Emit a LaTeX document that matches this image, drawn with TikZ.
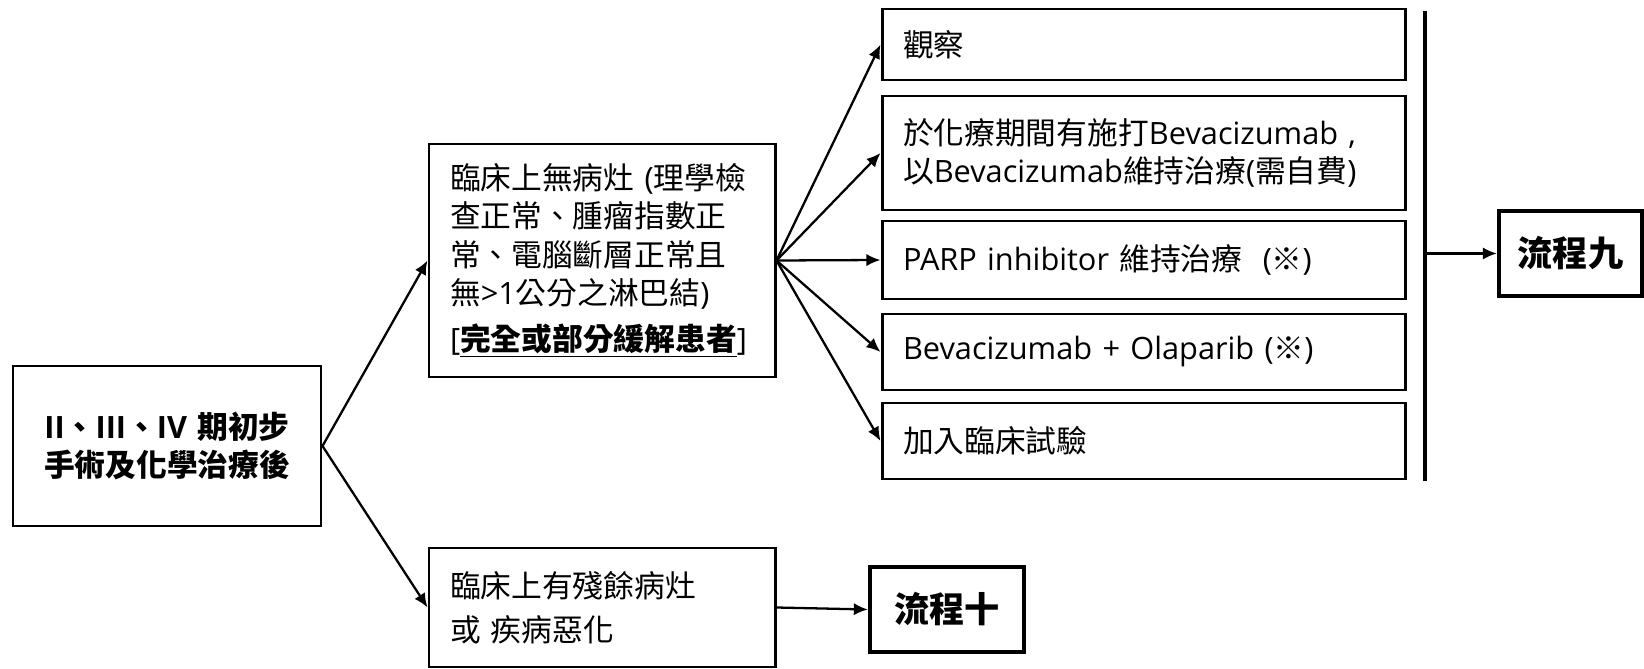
\documentclass[tikz,border=0pt]{standalone}
\usepackage{fontspec}
\setmainfont{Noto Sans CJK TC}
\newfontfamily\latn{Open Sans}
\usetikzlibrary{arrows.meta}

\newcommand{\pxl}{0.02cm}

\begin{document}
\begin{tikzpicture}[%
        x=\pxl, y=-\pxl,
        font=\fontsize{17.5}{21.8}\selectfont,
        box/.style={draw, line width=1.7pt, inner ysep=0pt, inner xsep=21*\pxl, align=left},
        stepbox/.style={box, text width=481*\pxl, minimum height=#1*\pxl},
        flowbox/.style={draw, line width=2.4pt, inner sep=0pt, align=center,
            font=\fontsize{20}{24}\selectfont\bfseries},
        link/.style={->, line width=1.3pt},
        >={Latex[length=8pt, width=7pt]} % default arrow tip
        ]
            \useasboundingbox (0,0) rectangle (1644,669);

            % Ausgangslage
            \node[box, align=center, text width=266*\pxl, minimum height=160*\pxl,
                font=\fontsize{17.5}{21.8}\selectfont\bfseries]
                (start) at (167,446) {{\latn II}、{\latn III}、{\latn IV} 期初步\\手術及化學治療後};

            % Verzweigung
            \node[box, text width=304*\pxl, minimum height=233*\pxl]
                (clear) at (602,260.5)
                {臨床上無病灶 {\latn (}理學檢\\查正常、腫瘤指數正\\常、電腦斷層正常且\\無{\latn >1}公分之淋巴結{\latn )}\\[4.5pt]
                 {\latn [}\underline{\textbf{完全或部分緩解患者}}{\latn ]}};
            \node[box, text width=304*\pxl, minimum height=119*\pxl,
                font=\fontsize{17.5}{24.9}\selectfont]
                (resid) at (602,607.5) {臨床上有殘餘病灶\\或 疾病惡化};

            % Erhaltung
            \node[stepbox=71]  (obs)   at (1143.5,44.5) {觀察};
            \node[stepbox=114] (bev)   at (1143.5,153)
                {於化療期間有施打{\latn Bevacizumab ,}\\以{\latn Bevacizumab}維持治療{\latn (}需自費{\latn )}};
            \node[stepbox=78]  (parp)  at (1143.5,260)  {{\latn PARP inhibitor} 維持治療\ \ {\latn (}※{\latn )}};
            \node[stepbox=76]  (olap)  at (1143.5,352)  {{\latn Bevacizumab + Olaparib (}※{\latn )}};
            \node[stepbox=76]  (trial) at (1143.5,441)  {加入臨床試驗};

            % Sammelschiene
            \coordinate (bartop) at (1425,11);
            \coordinate (barbot) at (1425,481);
            \draw[line width=2.8pt] (bartop) -- (barbot);

            \node[flowbox, minimum width=143*\pxl, minimum height=85*\pxl]
                (flow9) at (1570.5,253.5) {流程九};
            \node[flowbox, minimum width=154*\pxl, minimum height=85*\pxl]
                (flow10) at (947,609.5) {流程十};

            % Pfeile
            \draw[link] (start.east) -- (clear.west);
            \draw[link] (start.east) -- (resid.west);
            \foreach \n in {obs,bev,parp,olap,trial}
                \draw[link] (clear.east) -- (\n.west);
            \draw[link] (barbot |- flow9.west) -- (flow9.west);
            \draw[link] (resid.east) -- (flow10.west);

\end{tikzpicture}
\end{document}
